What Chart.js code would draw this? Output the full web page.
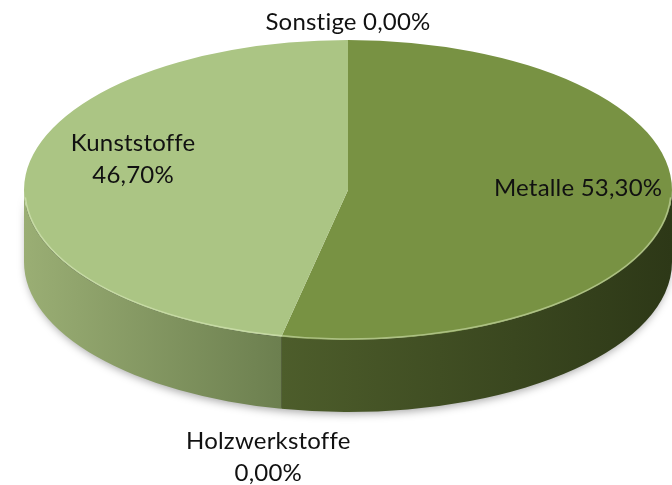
<!DOCTYPE html>
<html>
<head>
<meta charset="utf-8">
<script src="https://cdn.jsdelivr.net/npm/chart.js@4/dist/chart.umd.min.js"></script>
<style>
  html, body { margin: 0; padding: 0; background: #fff; }
</style>
</head>
<body>
<canvas id="pie" width="672" height="485"></canvas>
<script>
// data (clockwise from 12 o'clock)
var categories = ["Metalle", "Holzwerkstoffe", "Kunststoffe", "Sonstige"];
var shares = [53.3, 0, 46.7, 0]; // percent

// looks
var topColors = ["#789243", "#8c8c8c", "#abc584", "#8c8c8c"];
var sideColors = [["#4d5d2b", "#2d3817"], ["#666", "#444"], ["#9aae74", "#6c7f4f"], ["#666", "#444"]];
var wrapLabel = [false, true, true, false];
var labelRadius = [0.714, 1.33, 0.667, 1.12];
var labelShift = [[0, -13], [9, 0], [0, -20], [0, 0]];
var stretchX = 2.16;   // ellipse width / height
var depth = 72;        // height of the cylinder side
var fontCss = "24px Lato";

function pct(v){
    return v.toFixed(2).replace(".", ",") + "%";
}

var tiltPlugin = {
    id: "tilt",
    beforeDatasetsDraw: function(chart){
        var ctx = chart.ctx;
        var arcs = chart.getDatasetMeta(0).data;
        var cx = arcs[0].x, cy = arcs[0].y, r = arcs[0].outerRadius;
        var rx = r * stretchX, ry = r;

        // soft shadow under the disc
        ctx.save();
        ctx.shadowColor = "rgba(0,0,0,0.35)";
        ctx.shadowBlur = 8;
        ctx.shadowOffsetY = 3;
        ctx.fillStyle = "#444";
        ctx.beginPath();
        ctx.ellipse(cx, cy + depth, rx - 2, ry - 1, 0, 0, Math.PI);
        ctx.lineTo(cx - rx + 2, cy);
        ctx.ellipse(cx, cy, rx - 2, ry, 0, Math.PI, 0, true);
        ctx.closePath();
        ctx.fill();
        ctx.restore();

        // side walls of the visible (front) half
        arcs.forEach(function(a, i){
            if (shares[i] <= 0) return;
            for (var k = -1; k <= 1; k++){
                var lo = Math.max(a.startAngle, k * 2 * Math.PI);
                var hi = Math.min(a.endAngle, k * 2 * Math.PI + Math.PI);
                if (hi <= lo) continue;
                var x1 = cx + rx * Math.cos(lo), x2 = cx + rx * Math.cos(hi);
                var g = ctx.createLinearGradient(Math.min(x1, x2), 0, Math.max(x1, x2), 0);
                var c = sideColors[i];
                g.addColorStop(0, c[0]);
                g.addColorStop(1, c[1]);
                ctx.beginPath();
                ctx.ellipse(cx, cy, rx, ry, 0, lo, hi);
                ctx.lineTo(cx + rx * Math.cos(hi), cy + ry * Math.sin(hi) + depth);
                ctx.ellipse(cx, cy + depth, rx, ry, 0, hi, lo, true);
                ctx.closePath();
                ctx.fillStyle = g;
                ctx.fill();
            }
        });

        // flatten the library's pie into the top face
        ctx.save();
        ctx.translate(cx, cy);
        ctx.scale(stretchX, 1);
        ctx.translate(-cx, -cy);
    },
    afterDatasetsDraw: function(chart){
        var ctx = chart.ctx;
        ctx.restore();
        var a0 = chart.getDatasetMeta(0).data[0];
        // light rim along the front edge
        ctx.save();
        ctx.strokeStyle = "rgba(225,240,195,0.5)";
        ctx.lineWidth = 1.5;
        ctx.beginPath();
        ctx.ellipse(a0.x, a0.y, a0.outerRadius * stretchX - 1, a0.outerRadius - 1, 0, 0.05, Math.PI - 0.05);
        ctx.stroke();
        ctx.restore();
    },
    afterDraw: function(chart){
        var ctx = chart.ctx;
        var arcs = chart.getDatasetMeta(0).data;
        ctx.save();
        ctx.font = fontCss;
        ctx.letterSpacing = "0.2px"; // keeps "ti" from turning into a ligature
        ctx.fillStyle = "#111";
        ctx.textAlign = "center";
        ctx.textBaseline = "middle";
        arcs.forEach(function(a, i){
            var mid = (a.startAngle + a.endAngle) / 2;
            var f = labelRadius[i];
            var x = a.x + a.outerRadius * stretchX * f * Math.cos(mid) + labelShift[i][0];
            var y = a.y + a.outerRadius * f * Math.sin(mid) + labelShift[i][1];
            if (shares[i] <= 0 && Math.sin(mid) > 0) y += depth;
            var lines = wrapLabel[i] ? [categories[i], pct(shares[i])] : [categories[i] + " " + pct(shares[i])];
            var lh = 32;
            lines.forEach(function(t, j){
                ctx.fillText(t, x, y + (j - (lines.length - 1) / 2) * lh);
            });
        });
        ctx.restore();
    }
};

function createChart(){
    var canvas = document.querySelector("#pie").getContext("2d");
    new Chart(canvas, {
        type: "pie",
        data: {
            labels: categories,
            datasets: [{
                data: shares,
                backgroundColor: topColors,
                borderWidth: 0
            }]
        },
        options: {
            responsive: false,
            animation: false,
            layout: {padding: {top: 40, bottom: 145, left: 24, right: 0}},
            plugins: {
                legend: {display: false},
                tooltip: {enabled: false}
            }
        },
        plugins: [tiltPlugin]
    });
}

createChart();
</script>
</body>
</html>
